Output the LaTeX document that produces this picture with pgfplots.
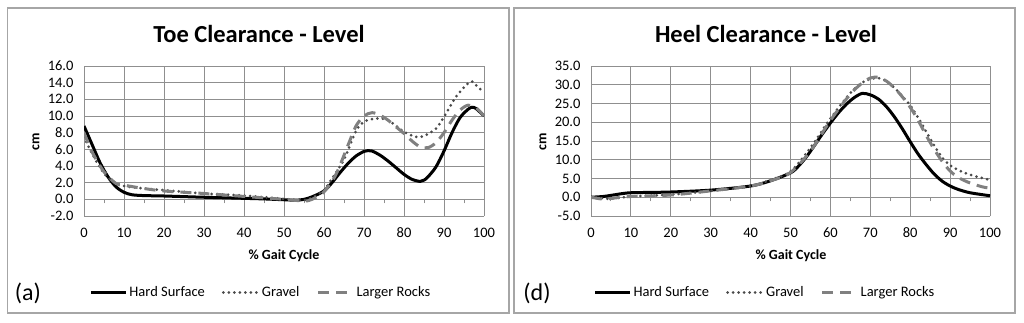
\documentclass[border=0pt]{standalone}
\usepackage{fontspec}
\setmainfont{Carlito}
\usepackage{pgfplots}
\pgfplotsset{compat=1.18}
\definecolor{gridgray}{HTML}{8F8F8F}
\definecolor{framegray}{HTML}{A6A6A6}
\definecolor{gravelc}{HTML}{4A4A4A}
\definecolor{rocksc}{HTML}{808080}
\pgfplotsset{
  panel/.style={
    scale only axis, width=400pt, height=150pt,
    xmin=0, xmax=100, xtick={0,10,...,100}, minor xtick={5,15,...,95},
    axis x line=middle, axis y line=box,
    every non boxed x axis/.append style={x axis line style=-},
    axis line style={gridgray, line width=1pt},
    x axis line style={-},
    hide obscured x ticks=false,
    grid=major, major grid style={gridgray, line width=1pt},
    tick align=outside, major tick length=4pt, minor tick length=4pt,
    xtick style={gridgray, line width=1pt},
    minor tick style={gridgray, line width=1pt},
    ytick style={draw=none},
    tick label style={font=\fontsize{14.5}{16}\selectfont, black},
    /pgf/number format/assume math mode=true,
    yticklabel style={xshift=-3pt, /pgf/number format/.cd, fixed, fixed zerofill, precision=1},
    legend columns=3,
    legend style={draw=none, fill=none, font=\fontsize{14.5}{16}\selectfont, anchor=center,
      /tikz/every even column/.append style={column sep=15pt}},
    legend image code/.code={\draw[#1] (0pt,0pt) -- (35pt,0pt);},
  },
  hard/.style={black, line width=3pt, smooth, no markers},
  gravel/.style={gravelc, line width=3pt, smooth, no markers, dash pattern=on 0pt off 5.5pt, line cap=round},
  rocks/.style={rocksc, line width=3pt, smooth, no markers, dash pattern=on 11pt off 7pt},
}
\begin{document}
\begin{tikzpicture}[x=1pt,y=1pt]
\useasboundingbox (0,0) rectangle (1024,322);
\draw[framegray, line width=1.4pt] (7.5,9) rectangle (509,314);
\draw[framegray, line width=1.4pt] (514,9) rectangle (1015,314);
% left
\begin{axis}[panel, at={(84pt,106pt)}, anchor=south west,
  ymin=-2, ymax=16, ytick={-2,0,...,16},
  xticklabel style={yshift=-21pt},
  legend style={at={(0.442,-0.51)}}]
\addplot[hard] coordinates {(0,8.8)(2,6.6)(4,4.4)(6,2.7)(8,1.5)(10,0.85)(12,0.55)(15,0.45)(20,0.4)(30,0.25)(40,0.12)(45,0.05)(50,-0.05)(53,-0.1)(55,0.0)(57,0.3)(60,1.0)(62,2.0)(64,3.2)(66,4.3)(68,5.2)(70,5.75)(71,5.85)(72,5.8)(74,5.3)(76,4.6)(78,3.8)(80,3.0)(82,2.4)(84,2.15)(85,2.3)(86,2.7)(88,3.9)(90,5.8)(92,8.0)(94,9.8)(96,10.8)(97,11.05)(98,10.9)(100,10.0)};
\addlegendentry{Hard Surface}
\addplot[gravel] coordinates {(0,7.5)(2,5.5)(5,3.1)(8,1.9)(10,1.6)(15,1.3)(20,1.1)(30,0.7)(40,0.45)(50,0.05)(55,-0.1)(57,0.2)(60,1.1)(62,2.5)(65,4.8)(68,8.2)(70,9.3)(73,9.7)(76,9.5)(80,8.1)(83,7.5)(85,7.6)(88,8.5)(90,9.9)(93,12.3)(96.5,14.1)(98,13.7)(100,12.8)};
\addlegendentry{Gravel}
\addplot[rocks] coordinates {(0,8.0)(2,5.7)(5,3.3)(8,1.9)(10,1.7)(15,1.3)(20,1.0)(30,0.7)(40,0.35)(50,0.0)(55,-0.2)(57,0.0)(60,0.9)(63,3.0)(66,6.5)(68,8.8)(70,10.0)(72,10.4)(74,10.1)(76,9.5)(78,8.7)(80,7.9)(82,7.0)(84,6.3)(86,6.2)(88,6.8)(90,8.0)(92,9.5)(94,10.7)(96,11.3)(98,11.0)(100,10.0)};
\addlegendentry{Larger Rocks}
\end{axis}
% right
\begin{axis}[panel, at={(591pt,106pt)}, anchor=south west, width=399pt,
  ymin=-5, ymax=35, ytick={-5,0,...,35},
  xticklabel style={yshift=-23pt},
  legend style={at={(0.436,-0.51)}}]
\addplot[hard] coordinates {(0,0)(3,0.2)(5,0.5)(8,1.0)(10,1.2)(15,1.3)(20,1.4)(30,1.9)(40,3.0)(45,4.4)(50,6.5)(52,8.3)(54,10.8)(56,13.8)(58,16.9)(60,19.8)(62,22.5)(64,24.8)(66,26.6)(68,27.7)(70,27.3)(72,26.2)(74,24.2)(76,21.5)(78,18.3)(80,14.8)(82,11.5)(84,8.7)(86,6.2)(88,4.3)(90,3.0)(92,2.1)(95,1.2)(100,0.4)};
\addlegendentry{Hard Surface}
\addplot[gravel] coordinates {(0,0)(3,-0.3)(5,-0.4)(10,0.2)(20,0.7)(30,1.7)(40,3.0)(45,4.6)(50,6.9)(55,13.2)(60,21)(65,27.8)(68,30.6)(70,31.5)(72,31.8)(74,31.0)(76,29.2)(78,27)(80,24.5)(82,21.2)(84,17.5)(86,13.8)(88,10.6)(90,8.5)(92,7.3)(95,6.0)(100,4.6)};
\addlegendentry{Gravel}
\addplot[rocks] coordinates {(0,0)(3,-0.5)(5,-0.3)(10,0.2)(20,0.6)(30,1.7)(40,3.0)(45,4.4)(50,6.6)(55,12.3)(60,20.5)(65,27.5)(68,30.5)(70,31.8)(72,32.0)(74,31.0)(76,29.2)(78,26.8)(80,24)(82,20.5)(84,16.5)(86,12.8)(88,9.6)(90,7.0)(92,5.3)(95,3.8)(98,2.8)(100,2.4)};
\addlegendentry{Larger Rocks}
\end{axis}
% texts
\node[font=\fontsize{24.5}{28}\selectfont\bfseries] at (259,288) {Toe Clearance - Level};
\node[font=\fontsize{24.5}{28}\selectfont\bfseries] at (766,288) {Heel Clearance - Level};
\node[font=\fontsize{14}{16}\selectfont\bfseries, rotate=90] at (36,180) {cm};
\node[font=\fontsize{14}{16}\selectfont\bfseries, rotate=90] at (543,180) {cm};
\node[font=\fontsize{14}{16}\selectfont\bfseries] at (284,66) {\% Gait Cycle};
\node[font=\fontsize{14}{16}\selectfont\bfseries] at (791,66) {\% Gait Cycle};
\node[font=\fontsize{24}{28}\selectfont] at (28,29) {(a)};
\node[font=\fontsize{24}{28}\selectfont] at (537,29) {(d)};
\end{tikzpicture}
\end{document}
